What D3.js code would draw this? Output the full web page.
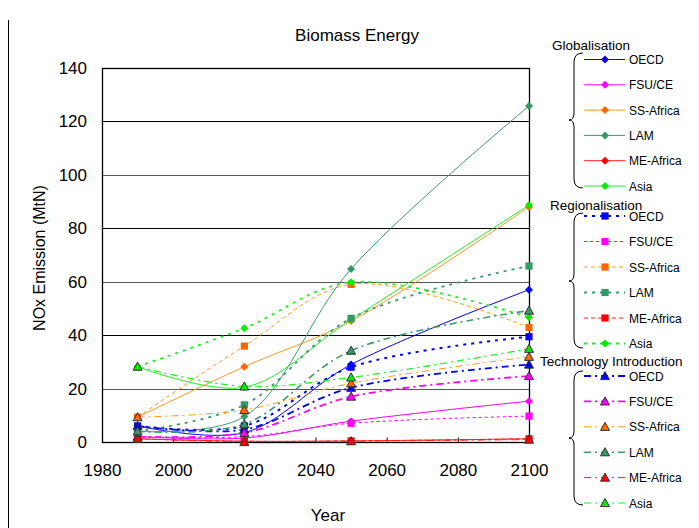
<!DOCTYPE html>
<html>
<head>
<meta charset="utf-8">
<script src="https://cdn.jsdelivr.net/npm/d3@7"></script>
<style>
  html, body { margin: 0; padding: 0; background: #fff; }
  svg { display: block; font-family: "Liberation Sans", Arial, sans-serif; }
</style>
</head>
<body>
<svg id="chart" width="699" height="528"></svg>
<script>
// ---------------- data ----------------
const years = [1990, 2020, 2050, 2100];
const regions = ["OECD", "FSU/CE", "SS-Africa", "LAM", "ME-Africa", "Asia"];
const scenarios = ["Globalisation", "Regionalisation", "Technology Introduction"];
const xTicks = [1980, 2000, 2020, 2040, 2060, 2080, 2100];
const yTicks = [0, 20, 40, 60, 80, 100, 120, 140];

// values per region (order of `regions`), at `years`
const globalisation = [
  [6.0, 3.5, 29.0, 57.0],
  [2.0, 1.5, 7.8, 15.3],
  [9.3, 28.2, 45.3, 88.0],
  [4.0, 9.5, 64.8, 125.8],
  [1.2, 0.3, 0.4, 1.2],
  [28.2, 20.5, 45.8, 88.7]
];
const regionalisation = [
  [6.0, 6.0, 28.0, 39.4],
  [2.0, 2.0, 7.0, 9.7],
  [9.3, 35.9, 59.0, 42.9],
  [4.0, 13.9, 46.3, 65.9],
  [1.2, 0.3, 0.4, 1.2],
  [28.2, 42.6, 59.8, 46.7]
];
const technology = [
  [6.0, 4.7, 20.3, 29.0],
  [2.0, 3.4, 17.0, 24.7],
  [9.3, 12.0, 22.0, 31.9],
  [4.0, 6.7, 34.2, 49.2],
  [1.2, 0.0, 0.3, 0.9],
  [28.2, 20.8, 24.2, 34.9]
];

// ---------------- styles ----------------
const lineColors = ["#0000FF", "#FF00FF", "#FF9922", "#3D9970", "#FF2020", "#22EE22"];
const markColors = ["#0000FF", "#FF00FF", "#FF6600", "#339966", "#FF0000", "#00EE00"];
const styles = [
  // Globalisation
  regions.map(() => ({ w: 1, dash: null, marker: "diamond" })),
  // Regionalisation
  [
    { w: 2, dash: "3,5", marker: "square" },
    { w: 1, dash: "3,3", marker: "square" },
    { w: 1, dash: "4,3", marker: "square" },
    { w: 1.8, dash: "3,5", marker: "square" },
    { w: 1, dash: "4,3", marker: "square" },
    { w: 1.8, dash: "3,5", marker: "diamond" }
  ],
  // Technology Introduction
  [
    { w: 1.8, dash: "7,4,2,4", marker: "triangle" },
    { w: 1.8, dash: "7,4,2,4", marker: "triangle" },
    { w: 1, dash: "7,4,2,4", marker: "triangle" },
    { w: 1.6, dash: "7,4,2,4", marker: "triangle" },
    { w: 1, dash: "7,4,2,4", marker: "triangle" },
    { w: 1.2, dash: "7,4,2,4", marker: "triangle" }
  ]
];
const dataSets = [globalisation, regionalisation, technology];

// ---------------- layout ----------------
const svg = d3.select("#chart");
const plot = { left: 102, right: 529, top: 68, bottom: 442 };

const x = d3.scaleLinear().domain([1980, 2100]).range([plot.left, plot.right]);
const y = d3.scaleLinear().domain([0, 140]).range([plot.bottom, plot.top]);

// outer left border
svg.append("line").attr("x1", 8.5).attr("x2", 8.5).attr("y1", 20).attr("y2", 528)
  .attr("stroke", "#000").attr("stroke-width", 1);

// gridlines
svg.append("g").selectAll("line").data(yTicks).join("line")
  .attr("x1", plot.left).attr("x2", plot.right)
  .attr("y1", d => Math.round(y(d)) + 0.5).attr("y2", d => Math.round(y(d)) + 0.5)
  .attr("stroke", (d, i) => i % 2 === 1 ? "#555" : "#000").attr("stroke-width", 1);

// plot border
svg.append("rect")
  .attr("x", plot.left + 0.5).attr("y", plot.top + 0.5)
  .attr("width", plot.right - plot.left).attr("height", plot.bottom - plot.top)
  .attr("fill", "none").attr("stroke", "#000").attr("stroke-width", 1.3);

// axes
const xAxis = d3.axisBottom(x).tickValues(xTicks).tickFormat(d3.format("d")).tickSizeInner(-5).tickSizeOuter(0).tickPadding(21);
const gx = svg.append("g").attr("transform", `translate(0,${plot.bottom + 0.5})`).call(xAxis);
gx.select(".domain").remove();
gx.selectAll("text").attr("font-size", 17).attr("fill", "#000").attr("font-family", "Liberation Sans, Arial, sans-serif");
gx.selectAll("line").attr("stroke", "#000");

const yAxis = d3.axisLeft(y).tickValues(yTicks).tickSize(0).tickPadding(15);
const gy = svg.append("g").attr("transform", `translate(${plot.left},0)`).call(yAxis);
gy.select(".domain").remove();
gy.selectAll("text").attr("font-size", 17).attr("fill", "#000").attr("font-family", "Liberation Sans, Arial, sans-serif");

// titles
svg.append("text").attr("x", 357).attr("y", 41).attr("text-anchor", "middle")
  .attr("font-size", 17).text("Biomass Energy");
svg.append("text").attr("x", 328).attr("y", 521).attr("text-anchor", "middle")
  .attr("font-size", 17).text("Year");
svg.append("text").attr("transform", "translate(45,258) rotate(-90)").attr("text-anchor", "middle")
  .attr("font-size", 16).text("NOx Emission (MtN)");

// clip
svg.append("defs").append("clipPath").attr("id", "clip")
  .append("rect").attr("x", plot.left).attr("y", plot.top - 2)
  .attr("width", plot.right - plot.left).attr("height", plot.bottom - plot.top + 2);

// marker drawing
function drawMarker(g, type, cx, cy, color) {
  if (type === "diamond") {
    const s = 4;
    g.append("path").attr("d", `M${cx},${cy - s}L${cx + s},${cy}L${cx},${cy + s}L${cx - s},${cy}Z`)
      .attr("fill", color);
  } else if (type === "square") {
    const s = 3.6;
    g.append("rect").attr("x", cx - s).attr("y", cy - s).attr("width", 2 * s).attr("height", 2 * s)
      .attr("fill", color);
  } else {
    const s = 4.5;
    g.append("path").attr("d", `M${cx},${cy - s}L${cx + s},${cy + s * 0.8}L${cx - s},${cy + s * 0.8}Z`)
      .attr("fill", color).attr("stroke", "#333").attr("stroke-width", 1);
  }
}

const line = d3.line().x(d => x(d[0])).y(d => y(d[1])).curve(d3.curveCatmullRom.alpha(0.5));

const gLines = svg.append("g").attr("clip-path", "url(#clip)");
const gMarks = svg.append("g");

dataSets.forEach((set, si) => {
  set.forEach((vals, ri) => {
    const st = styles[si][ri];
    const pts = years.map((yr, k) => [yr, vals[k]]);
    gLines.append("path").datum(pts).attr("d", line)
      .attr("fill", "none").attr("stroke", lineColors[ri])
      .attr("stroke-width", st.w).attr("stroke-dasharray", st.dash);
  });
});
dataSets.forEach((set, si) => {
  set.forEach((vals, ri) => {
    const st = styles[si][ri];
    years.forEach((yr, k) => drawMarker(gMarks, st.marker, x(yr), y(vals[k]), markColors[ri]));
  });
});

// ---------------- legend ----------------
const legendTop = [
  { title: 45, first: 59.5, step: 25.3, brace: [53, 120, 188] },
  { title: 205, first: 216, step: 25.5, brace: [213, 281, 348] },
  { title: 361, first: 376, step: 25.4, brace: [371, 438, 505] }
];
const gl = svg.append("g");
scenarios.forEach((name, si) => {
  const L = legendTop[si];
  gl.append("text").attr("x", si === 2 ? 540 : (si === 1 ? 550 : 552)).attr("y", L.title + 5)
    .attr("font-size", 13.5).text(name);
  const [t, m, b] = L.brace;
  gl.append("path")
    .attr("d", `M583,${t} Q574,${t} 574,${t + 9} L574,${m - 7} Q574,${m} 569,${m} Q574,${m} 574,${m + 7} L574,${b - 9} Q574,${b} 583,${b}`)
    .attr("fill", "none").attr("stroke", "#000").attr("stroke-width", 1);
  regions.forEach((r, ri) => {
    const st = styles[si][ri];
    const yy = L.first + ri * L.step;
    gl.append("line").attr("x1", 584).attr("x2", 625).attr("y1", yy).attr("y2", yy)
      .attr("stroke", lineColors[ri]).attr("stroke-width", st.w).attr("stroke-dasharray", st.dash);
    drawMarker(gl, st.marker, 605, yy, markColors[ri]);
    gl.append("text").attr("x", 629).attr("y", yy + 4.5).attr("font-size", 12).text(r);
  });
});
</script>
</body>
</html>
